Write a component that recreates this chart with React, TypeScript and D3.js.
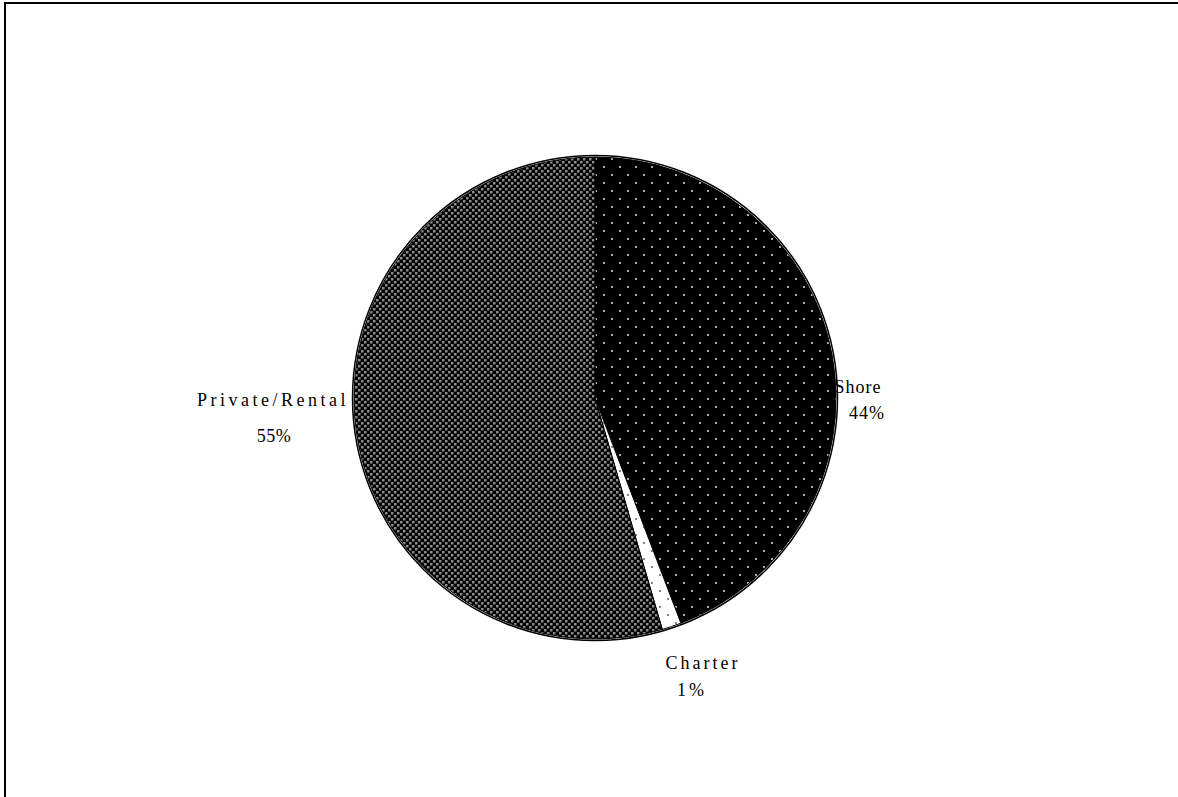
import React from "react";
import * as d3 from "d3";

const categories = ["Shore", "Charter", "Private/Rental"];
const values = [44.2, 1.3, 54.5];
const percentLabels = ["44%", "1%", "55%"];
const patternIds = ["pShore", "pCharter", "pPrivate"];
// label anchors: [x name, x pct, baseline name, line gap]
const labelPos: [number, number, number, number][] = [
  [858, 867, 393, 26],
  [703, 692, 669, 27],
  [273, 274, 406, 36],
];
const nameSpacing = [1, 3, 3.5];
const pctSpacing = [1, 3, 0.5];

const W = 1178;
const H = 797;
const cx = 595;
const cy = 398;
const R = 241;

export default function App() {
  const pie = d3
    .pie<number>()
    .sort(null)
    .value((d) => d)
    .startAngle(0)
    .endAngle(2 * Math.PI);
  const arcs = pie(values);
  const arc = d3.arc<d3.PieArcDatum<number>>().innerRadius(0).outerRadius(R);

  return (
    <svg
      width={W}
      height={H}
      style={{ position: "absolute", left: 0, top: 0, background: "#fff" }}
    >
      <defs>
        <pattern id="pShore" width={16} height={16} patternUnits="userSpaceOnUse">
          <rect width={16} height={16} fill="#000" />
          <rect x={0} y={0} width={2} height={2} fill="#a8a8a8" />
          <rect x={8} y={8} width={2} height={2} fill="#a8a8a8" />
        </pattern>
        <pattern id="pCharter" width={16} height={16} patternUnits="userSpaceOnUse">
          <rect width={16} height={16} fill="#fff" />
          <rect x={0} y={0} width={2} height={2} fill="#888" />
          <rect x={8} y={8} width={2} height={2} fill="#888" />
        </pattern>
        <pattern id="pPrivate" width={6} height={6} patternUnits="userSpaceOnUse">
          <rect width={6} height={6} fill="#000" />
          <rect x={0} y={0} width={2.5} height={2.5} fill="#8c8c8c" />
          <rect x={3} y={3} width={2.5} height={2.5} fill="#8c8c8c" />
        </pattern>
      </defs>
      <path d={`M5,${H + 10} V3 H${W + 10}`} fill="none" stroke="#000" strokeWidth={2} />
      <g transform={`translate(${cx},${cy})`}>
        <circle r={R + 1.5} fill="none" stroke="#000" strokeWidth={1.5} />
        {arcs.map((a, i) => (
          <path
            key={categories[i]}
            d={arc(a) || ""}
            fill={`url(#${patternIds[i]})`}
            stroke="#000"
            strokeWidth={1}
          />
        ))}
      </g>
      {categories.map((c, i) => (
        <g
          key={c}
          fontFamily="'Liberation Serif', 'Times New Roman', serif"
          fontSize={18}
          fill="#000"
          textAnchor="middle"
        >
          <text x={labelPos[i][0]} y={labelPos[i][2]} letterSpacing={nameSpacing[i]}>
            {c}
          </text>
          <text
            x={labelPos[i][1]}
            y={labelPos[i][2] + labelPos[i][3]}
            letterSpacing={pctSpacing[i]}
          >
            {percentLabels[i]}
          </text>
        </g>
      ))}
    </svg>
  );
}
